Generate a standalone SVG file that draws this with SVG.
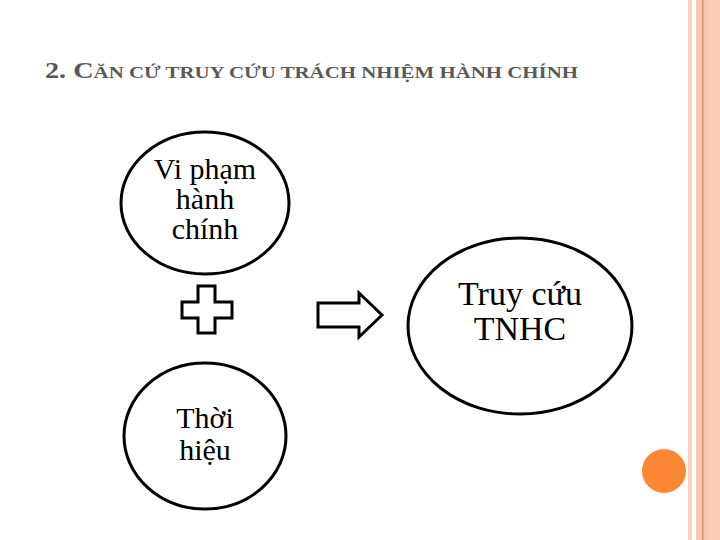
<svg xmlns="http://www.w3.org/2000/svg" width="720" height="540" viewBox="0 0 720 540">
<style>
.node{fill:#fff;stroke:#000;stroke-width:3}
.lbl{font-family:"Liberation Serif","DejaVu Serif",serif;fill:#000;text-anchor:middle}
.title{font-family:"Liberation Serif","DejaVu Serif",serif;fill:#595959}
</style>
<rect width="720" height="540" fill="#fff"/>
<g id="border">
<rect x="688" y="0" width="4" height="540" fill="#fbd3c3"/>
<rect x="696" y="0" width="24" height="540" fill="#fcc8b4"/>
<rect x="702" y="0" width="1.5" height="540" fill="#e0906c"/>
<rect x="708" y="0" width="12" height="540" fill="#fdcdb9"/>
</g>
<circle cx="664" cy="471" r="22" fill="#fb8633"/>
<text class="title" x="45" y="78" font-weight="bold" textLength="533" lengthAdjust="spacingAndGlyphs"><tspan font-size="23">2. C</tspan><tspan font-size="17">ĂN CỨ TRUY CỨU TRÁCH NHIỆM HÀNH CHÍNH</tspan></text>
<g id="n1">
<ellipse class="node" cx="205" cy="203" rx="84" ry="71"/>
<text class="lbl" font-size="30"><tspan x="205" y="179">Vi phạm</tspan><tspan x="205" y="209">hành</tspan><tspan x="205" y="239">chính</tspan></text>
</g>
<g id="n2">
<ellipse class="node" cx="205" cy="436" rx="81" ry="73"/>
<text class="lbl" font-size="30"><tspan x="205" y="428">Thời</tspan><tspan x="205" y="460">hiệu</tspan></text>
</g>
<g id="n3">
<ellipse class="node" cx="520" cy="326" rx="112" ry="88"/>
<text class="lbl" font-size="34"><tspan x="520" y="305">Truy cứu</tspan><tspan x="520" y="340">TNHC</tspan></text>
</g>
<g id="plus">
<path class="node" stroke-width="4" d="M198,286 H215 V302 H232 V318 H215 V333 H198 V318 H182 V302 H198 Z"/>
</g>
<g id="connectors">
<path class="node" stroke-width="3.5" d="M318,303 H359 V293 L382,315 L359,337 V327 H318 Z"/>
</g>
</svg>
